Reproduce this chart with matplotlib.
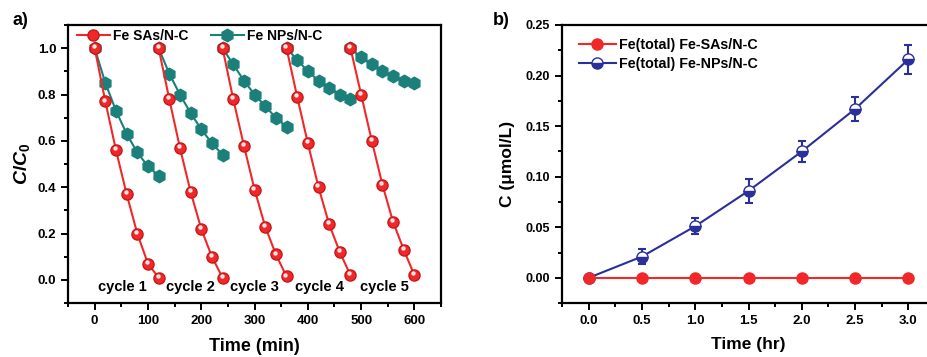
import numpy as np
import matplotlib
matplotlib.use('Agg')
import matplotlib.pyplot as plt
from matplotlib.ticker import MultipleLocator
from matplotlib.lines import Line2D

plt.rcParams['font.family'] = ['Liberation Sans', 'DejaVu Sans']
plt.rcParams['font.weight'] = 'bold'
plt.rcParams['mathtext.fontset'] = 'custom'
plt.rcParams['mathtext.it'] = 'Liberation Sans:bold:italic'
plt.rcParams['mathtext.rm'] = 'Liberation Sans:bold'

# (a) 五回の繰り返し試験 C/C0
cycle_names = ['cycle 1', 'cycle 2', 'cycle 3', 'cycle 4', 'cycle 5']
t_in_cycle = [0, 20, 40, 60, 80, 100, 120]
sas_cycles = [
    [1.0, 0.77, 0.56, 0.37, 0.20, 0.07, 0.01],
    [1.0, 0.78, 0.57, 0.38, 0.22, 0.10, 0.01],
    [1.0, 0.78, 0.58, 0.39, 0.23, 0.11, 0.015],
    [1.0, 0.79, 0.59, 0.40, 0.24, 0.12, 0.02],
    [1.0, 0.80, 0.60, 0.41, 0.25, 0.13, 0.02],
]
nps_cycles = [
    [1.0, 0.85, 0.73, 0.63, 0.55, 0.49, 0.45],
    [1.0, 0.89, 0.80, 0.72, 0.65, 0.59, 0.54],
    [1.0, 0.93, 0.86, 0.80, 0.75, 0.70, 0.66],
    [1.0, 0.95, 0.90, 0.86, 0.83, 0.80, 0.78],
    [1.0, 0.96, 0.93, 0.90, 0.88, 0.86, 0.85],
]
cycle_label_x = [52, 179, 300, 421, 543]

# (b) 鉄の溶出量
hours = [0.0, 0.5, 1.0, 1.5, 2.0, 2.5, 3.0]
fe_sas = [0, 0, 0, 0, 0, 0, 0]
fe_nps = [0.0, 0.021, 0.051, 0.086, 0.125, 0.167, 0.216]
fe_nps_err = [0.0, 0.007, 0.008, 0.012, 0.010, 0.012, 0.014]

red = '#f0282a'
teal = '#1b7f7a'
navy = '#2b2f9a'

fig = plt.figure(figsize=(9.28, 3.57), dpi=100)
ax1 = fig.add_axes([0.0733, 0.151, 0.402, 0.779])
ax2 = fig.add_axes([0.6056, 0.151, 0.402, 0.779])

for i in range(5):
    tt = np.array(t_in_cycle) + 120 * i
    ax1.plot(tt, nps_cycles[i], '-h', color=teal, mfc=teal, mec=teal, ms=9, lw=1.5, zorder=2)
    ax1.plot(tt, sas_cycles[i], '-o', color=red, mfc=red, mec='#c81818', ms=8, lw=1.5, zorder=3)
    ax1.plot(tt - 2, np.array(sas_cycles[i]) + 0.008, 'o', color='white', ms=2.2,
             alpha=0.8, zorder=4)
    ax1.text(cycle_label_x[i], -0.03, cycle_names[i], ha='center', va='center',
             fontsize=10.5, fontweight='bold')

ax1.set_xlim(-50, 650)
ax1.set_ylim(-0.1, 1.1)
ax1.xaxis.set_major_locator(MultipleLocator(100))
ax1.xaxis.set_minor_locator(MultipleLocator(50))
ax1.yaxis.set_major_locator(MultipleLocator(0.2))
ax1.yaxis.set_minor_locator(MultipleLocator(0.1))
ax1.set_xlabel('Time (min)', fontsize=13, fontweight='bold', labelpad=8)
ax1.set_ylabel(r'$C/C_0$', fontsize=14, labelpad=4)
leg_a = [Line2D([], [], color=red, marker='o', mfc=red, mec='#c81818', ms=8, lw=1.5),
         Line2D([], [], color=teal, marker='h', mfc=teal, mec=teal, ms=9, lw=1.5)]
ax1.legend(leg_a, ['Fe SAs/N-C', 'Fe NPs/N-C'], loc='upper left', ncol=2, frameon=False,
           fontsize=10, bbox_to_anchor=(-0.01, 1.03), handlelength=2.4,
           columnspacing=1.6, handletextpad=0.2)

ax2.errorbar(hours, fe_nps, yerr=fe_nps_err, fmt='-o', color=navy, mec=navy, mfc=navy,
             fillstyle='bottom', markerfacecoloralt='white', ms=8, lw=1.5, capsize=3,
             elinewidth=1.5, capthick=1.5, zorder=2)
ax2.plot(hours, fe_sas, '-o', color=red, mfc=red, mec=red, ms=8, lw=1.5, zorder=3)
ax2.set_xlim(-0.25, 3.25)
ax2.set_ylim(-0.025, 0.25)
ax2.xaxis.set_major_locator(MultipleLocator(0.5))
ax2.xaxis.set_minor_locator(MultipleLocator(0.25))
ax2.yaxis.set_major_locator(MultipleLocator(0.05))
ax2.yaxis.set_minor_locator(MultipleLocator(0.025))
ax2.set_xlabel('Time (hr)', fontsize=12.5, fontweight='bold', labelpad=7)
ax2.set_ylabel('C (μmol/L)', fontsize=12.5, fontweight='bold', labelpad=8)
leg_b = [Line2D([], [], color=red, marker='o', mfc=red, mec=red, ms=8, lw=1.5),
         Line2D([], [], color=navy, marker='o', mfc=navy, mec=navy, ms=8, lw=1.5,
                fillstyle='bottom', markerfacecoloralt='white')]
ax2.legend(leg_b, ['Fe(total) Fe-SAs/N-C', 'Fe(total) Fe-NPs/N-C'], loc='upper left',
           frameon=False, fontsize=10.3, bbox_to_anchor=(0.01, 1.0), handlelength=2.6,
           handletextpad=0.2, labelspacing=0.35)

for ax in (ax1, ax2):
    for s in ax.spines.values():
        s.set_linewidth(1.6)
    ax.tick_params(which='both', direction='out', top=False, right=False, width=1.4)
    ax.tick_params(which='major', length=5, labelsize=9.5)
    ax.tick_params(which='minor', length=3)
    for lab in ax.get_xticklabels() + ax.get_yticklabels():
        lab.set_fontweight('bold')
ax2.tick_params(axis='y', labelsize=9)

fig.text(0.013, 0.93, 'a)', fontsize=13, fontweight='bold')
fig.text(0.531, 0.93, 'b)', fontsize=13, fontweight='bold')

fig.savefig('out.png', dpi=100)
